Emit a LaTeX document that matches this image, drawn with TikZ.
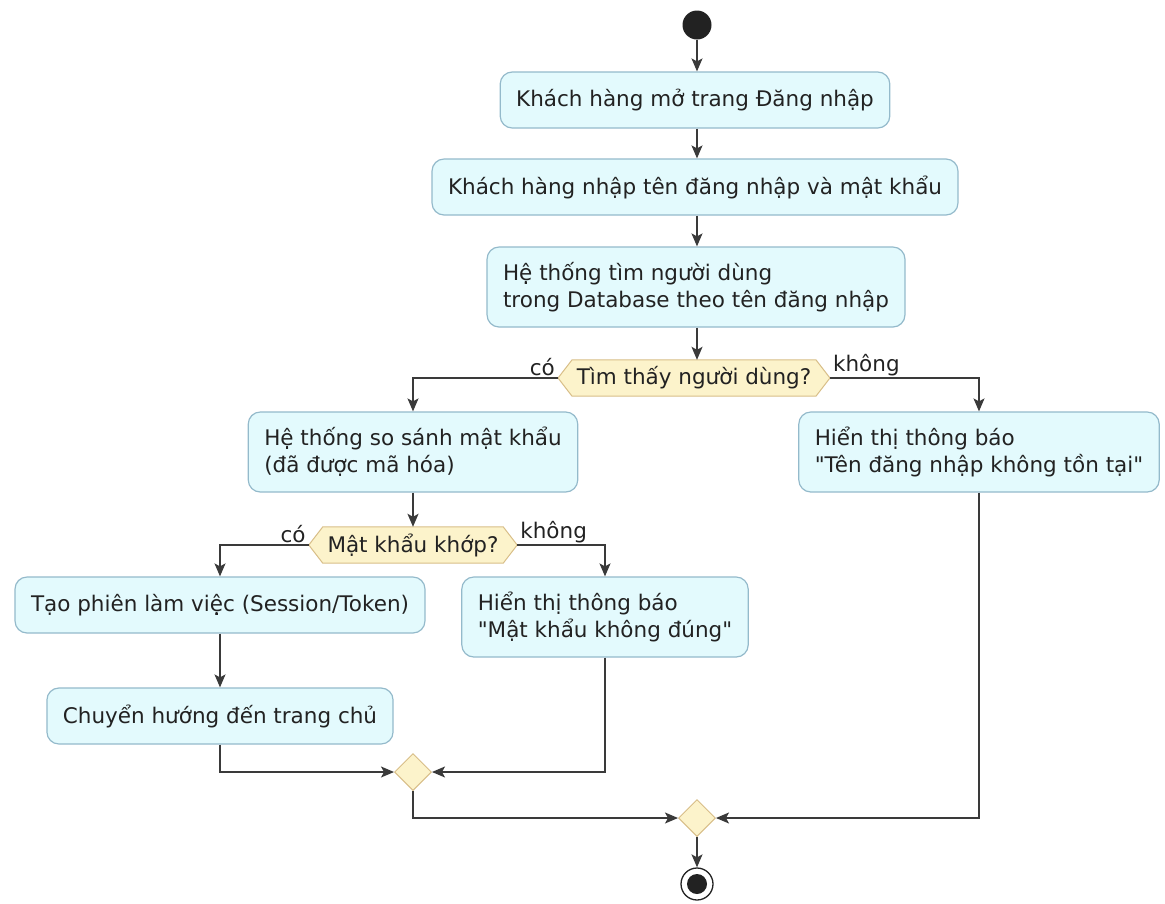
\documentclass[tikz,border=0pt]{standalone}
\usepackage{fontspec}
\setmainfont{DejaVu Sans}[Ligatures=TeXOff]
\usetikzlibrary{arrows.meta,shapes.geometric,calc,backgrounds}
\definecolor{actfill}{HTML}{E3FAFD}
\definecolor{actline}{HTML}{94BACB}
\definecolor{decfill}{HTML}{FCF3CB}
\definecolor{decline}{HTML}{D8BE88}
\definecolor{flow}{HTML}{3A3A3A}
\definecolor{ink}{HTML}{222222}
\tikzset{
  act/.style={draw=actline, fill=actfill, line width=1.2pt, rounded corners=12pt,
    inner xsep=16pt, inner ysep=0pt, minimum height=56pt, align=left,
    text=ink, font=\fontsize{21.5}{27}\selectfont},
  act2/.style={act, minimum height=80pt},
  dectext/.style={inner xsep=18.5pt, inner ysep=0pt, minimum height=36pt,
    text=ink, font=\fontsize{21.5}{27}\selectfont},
  merge/.style={diamond, draw=decline, fill=decfill, line width=1pt,
    minimum width=37pt, minimum height=37pt, inner sep=0pt},
  lbl/.style={inner sep=1pt, text=ink, font=\fontsize{21.5}{27}\selectfont},
  flowline/.style={draw=flow, line width=1.4pt,
    -{Stealth[length=13pt,width=11pt,inset=3pt]}},
}
\newcommand{\hexpath}[2]{%
  \path[fill=decfill, draw=decline, line width=1pt]
    (#1.west) -- ($(#1.north west)+(#2,0)$) -- ($(#1.north east)+(-#2,0)$)
    -- (#1.east) -- ($(#1.south east)+(-#2,0)$) -- ($(#1.south west)+(#2,0)$) -- cycle;}
\begin{document}
\begin{tikzpicture}[x=1pt,y=-1pt]
\useasboundingbox (0,0) rectangle (1165,903);

% start
\node (start) [circle, fill=ink, minimum size=29pt, inner sep=0pt] at (697,25) {};

% activities
\node (b1) [act] at (695,100) {Khách hàng mở trang Đăng nhập};
\node (b2) [act] at (695,187) {Khách hàng nhập tên đăng nhập và mật khẩu};
\node (b3) [act2] at (696,287) {Hệ thống tìm người dùng\\trong Database theo tên đăng nhập};

% first decision
\node (d1) [dectext] at (694,378) {Tìm thấy người dùng?};
\begin{scope}[on background layer]\hexpath{d1}{14}\end{scope}

\node (b4) [act2] at (413,452) {Hệ thống so sánh mật khẩu\\(đã được mã hóa)};
\node (b5) [act2] at (979,452) {Hiển thị thông báo\\"Tên đăng nhập không tồn tại"};

% second decision
\node (d2) [dectext] at (413,545) {Mật khẩu khớp?};
\begin{scope}[on background layer]\hexpath{d2}{14}\end{scope}

\node (b6) [act] at (220,605) {Tạo phiên làm việc (Session/Token)};
\node (b7) [act2] at (605,617) {Hiển thị thông báo\\"Mật khẩu không đúng"};
\node (b8) [act] at (220,716) {Chuyển hướng đến trang chủ};

% merges
\node (m1) [merge] at (413,772) {};
\node (m2) [merge] at (697,818) {};

% end
\node (stop) [circle, draw=ink, line width=1.3pt, fill=white, minimum size=32pt, inner sep=0pt] at (697,884) {};
\node (stopdot) [circle, fill=ink, minimum size=20pt, inner sep=0pt] at (stop.center) {};

% branch labels
\node (l1) [lbl, anchor=south east] at ($(d1.west)+(-2,-1)$) {có};
\node (l2) [lbl, anchor=south west] at ($(d1.east)+(2,-1)$) {không};
\node (l3) [lbl, anchor=south east] at ($(d2.west)+(-2,-1)$) {có};
\node (l4) [lbl, anchor=south west] at ($(d2.east)+(2,-1)$) {không};

% flow
\draw[flowline] (start) -- (start |- b1.north);
\draw[flowline] (start |- b1.south) -- (start |- b2.north);
\draw[flowline] (start |- b2.south) -- (start |- b3.north);
\draw[flowline] (start |- b3.south) -- (start |- d1.north);
\draw[flowline] (d1.west) -| (b4.north);
\draw[flowline] (d1.east) -| (b5.north);
\draw[flowline] (b4) -- (d2);
\draw[flowline] (d2.west) -| (b6.north);
\draw[flowline] (d2.east) -| (b7.north);
\draw[flowline] (b6) -- (b8);
\draw[flowline] (b8.south) |- (m1.west);
\draw[flowline] (b7.south) |- (m1.east);
\draw[flowline] (m1.south) |- (m2.west);
\draw[flowline] (b5.south) |- (m2.east);
\draw[flowline] (m2.south) -- (stop.north);
\end{tikzpicture}
\end{document}
